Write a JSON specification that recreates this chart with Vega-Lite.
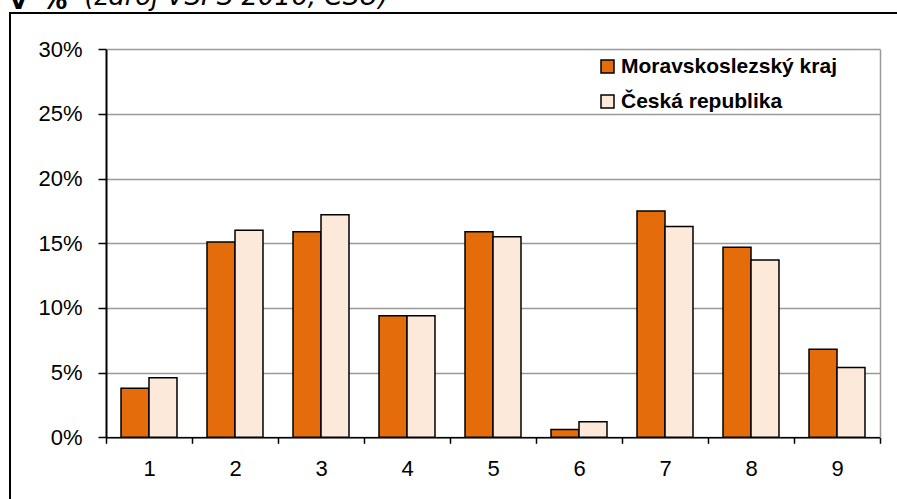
{
  "$schema": "https://vega.github.io/schema/vega-lite/v6.json",
  "autosize": "none",
  "padding": {"left": 10, "top": 13, "right": -10, "bottom": -14},
  "width": 897,
  "height": 500,
  "background": "white",
  "title": {
    "text": "v \u2009%",
    "subtitle": "\u200b\u00a0\u00a0\u00a0\u00a0\u00a0\u00a0\u00a0\u00a0\u00a0(zdroj VŠPS 2016, ČSÚ)",
    "anchor": "start",
    "frame": "group",
    "offset": -5,
    "font": "DejaVu Sans",
    "fontSize": 26,
    "fontWeight": "bold",
    "color": "black",
    "subtitleFont": "DejaVu Sans",
    "subtitleFontSize": 26,
    "subtitleFontStyle": "italic",
    "subtitleFontWeight": "normal",
    "subtitleColor": "black",
    "subtitlePadding": -30
  },
  "data": {
    "values": [
      {"kategorie": 1, "oblast": "Moravskoslezský kraj", "podil": 3.8},
      {"kategorie": 1, "oblast": "Česká republika", "podil": 4.6},
      {"kategorie": 2, "oblast": "Moravskoslezský kraj", "podil": 15.1},
      {"kategorie": 2, "oblast": "Česká republika", "podil": 16.0},
      {"kategorie": 3, "oblast": "Moravskoslezský kraj", "podil": 15.9},
      {"kategorie": 3, "oblast": "Česká republika", "podil": 17.2},
      {"kategorie": 4, "oblast": "Moravskoslezský kraj", "podil": 9.4},
      {"kategorie": 4, "oblast": "Česká republika", "podil": 9.4},
      {"kategorie": 5, "oblast": "Moravskoslezský kraj", "podil": 15.9},
      {"kategorie": 5, "oblast": "Česká republika", "podil": 15.5},
      {"kategorie": 6, "oblast": "Moravskoslezský kraj", "podil": 0.6},
      {"kategorie": 6, "oblast": "Česká republika", "podil": 1.2},
      {"kategorie": 7, "oblast": "Moravskoslezský kraj", "podil": 17.5},
      {"kategorie": 7, "oblast": "Česká republika", "podil": 16.3},
      {"kategorie": 8, "oblast": "Moravskoslezský kraj", "podil": 14.7},
      {"kategorie": 8, "oblast": "Česká republika", "podil": 13.7},
      {"kategorie": 9, "oblast": "Moravskoslezský kraj", "podil": 6.8},
      {"kategorie": 9, "oblast": "Česká republika", "podil": 5.4}
    ]
  },
  "layer": [
    {
      "mark": {"type": "bar", "stroke": "black", "strokeWidth": 1.5},
      "encoding": {
        "x": {
          "field": "kategorie",
          "type": "ordinal",
          "scale": {"range": [96, 870], "paddingInner": 0, "paddingOuter": 0},
          "axis": {
            "title": null,
            "orient": "bottom",
            "offset": -75.7,
            "tickBand": "extent",
            "grid": false,
            "domainColor": "black",
            "domainWidth": 1.5,
            "tickColor": "black",
            "tickWidth": 1.5,
            "tickSize": 6,
            "labelFont": "Liberation Sans",
            "labelFontSize": 22,
            "labelColor": "black",
            "labelPadding": 15,
            "labelAngle": 0
          }
        },
        "xOffset": {
          "field": "oblast",
          "type": "nominal",
          "sort": ["Moravskoslezský kraj", "Česká republika"],
          "scale": {"paddingInner": 0, "paddingOuter": 0.536}
        },
        "y": {
          "field": "podil",
          "type": "quantitative",
          "scale": {"domain": [0, 30], "range": [424.3, 36.3], "nice": false, "zero": true},
          "axis": {
            "title": null,
            "orient": "left",
            "offset": -96,
            "values": [0, 5, 10, 15, 20, 25, 30],
            "labelExpr": "datum.value + '%'",
            "grid": true,
            "gridColor": "#999999",
            "gridWidth": 1.5,
            "domainColor": "black",
            "domainWidth": 2,
            "tickColor": "black",
            "tickWidth": 1.5,
            "tickSize": 8,
            "labelFont": "Liberation Sans",
            "labelFontSize": 22,
            "labelColor": "black",
            "labelPadding": 16
          }
        },
        "color": {
          "field": "oblast",
          "type": "nominal",
          "sort": ["Moravskoslezský kraj", "Česká republika"],
          "scale": {"domain": ["Moravskoslezský kraj", "Česká republika"], "range": ["#E46C0A", "#FDE9D9"]},
          "legend": {
            "title": null,
            "orient": "none",
            "legendX": 587,
            "legendY": 43,
            "symbolType": "square",
            "symbolSize": 169,
            "symbolStrokeColor": "black",
            "symbolStrokeWidth": 1.5,
            "labelFont": "Liberation Sans",
            "labelFontSize": 21,
            "labelFontWeight": "bold",
            "labelColor": "black",
            "labelOffset": 3,
            "rowPadding": 13,
            "labelLimit": 400
          }
        }
      }
    },
    {
      "mark": {"type": "rule", "opacity": 0},
      "encoding": {
        "y": {
          "field": "podil",
          "type": "quantitative",
          "axis": {
            "title": null,
            "orient": "right",
            "offset": -27,
            "labels": false,
            "ticks": false,
            "grid": false,
            "domainColor": "#999999",
            "domainWidth": 1.5
          }
        }
      }
    }
  ],
  "resolve": {"axis": {"y": "independent"}},
  "config": {
    "view": {"stroke": "black", "strokeWidth": 2, "fill": "white"}
  }
}
